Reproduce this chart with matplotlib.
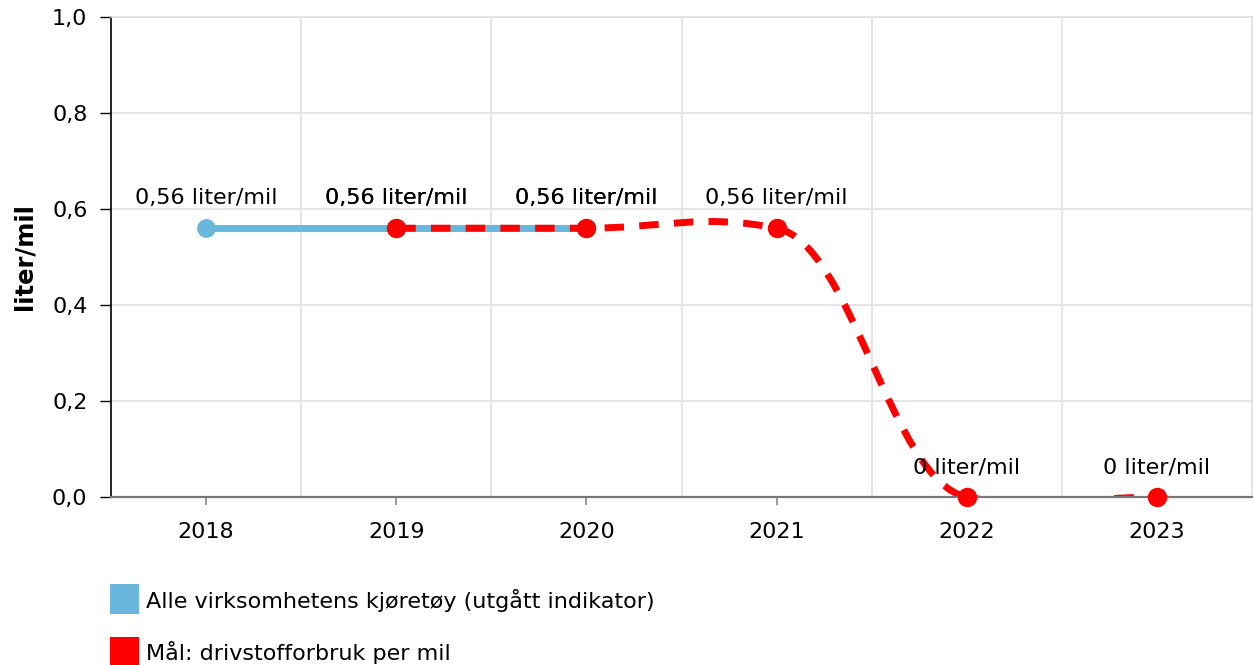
import numpy as np
import matplotlib.pyplot as plt
from matplotlib.path import Path
from matplotlib.patches import PathPatch, Rectangle

# -----------------------------
# data
# -----------------------------
years_blue = [2018, 2019, 2020]
values_blue = [0.56, 0.56, 0.56]
years_red = [2019, 2020, 2021, 2022, 2023]
values_red = [0.56, 0.56, 0.56, 0.0, 0.0]
x_ticks = [2018, 2019, 2020, 2021, 2022, 2023]
y_ticks = [0.0, 0.2, 0.4, 0.6, 0.8, 1.0]
legend_labels = ["Alle virksomhetens kjøretøy (utgått indikator)",
                 "Mål: drivstofforbruk per mil"]
unit = "liter/mil"

BLUE = "#69b8dc"
RED = "#ff0000"
FS = 16

plt.rcParams["font.family"] = ["DejaVu Sans"]


def fmt(v):
    return f"{v:g}".replace(".", ",") + " " + unit


def smooth_path(xs, ys, arm=0.4, damp=0.28):
    # bezier spline through the points, like the web chart's "spline" line
    xs = np.asarray(xs, float)
    ys = np.asarray(ys, float)
    n = len(xs)
    slope = np.zeros(n)
    for i in range(1, n - 1):
        slope[i] = damp * (ys[i + 1] - ys[i - 1]) / (xs[i + 1] - xs[i - 1])
    verts = [(xs[0], ys[0])]
    codes = [Path.MOVETO]
    for i in range(n - 1):
        dx = (xs[i + 1] - xs[i]) * arm
        verts += [(xs[i] + dx, ys[i] + dx * slope[i]),
                  (xs[i + 1] - dx, ys[i + 1] - dx * slope[i + 1]),
                  (xs[i + 1], ys[i + 1])]
        codes += [Path.CURVE4] * 3
    return Path(verts, codes)


W, H = 1254, 665
fig = plt.figure(figsize=(W / 100, H / 100), dpi=100)
ax = fig.add_axes([111 / W, 1 - 497 / H, (1252 - 111) / W, (497 - 17) / H])

ax.set_xlim(2017.5, 2023.5)
ax.set_ylim(0, 1.0)

# grid
ax.set_xticks(x_ticks)
ax.set_xticks([y + 0.5 for y in x_ticks[:-1]], minor=True)
ax.set_yticks(y_ticks)
ax.set_yticklabels([f"{v:.1f}".replace(".", ",") for v in y_ticks], fontsize=FS)
ax.set_xticklabels([str(y) for y in x_ticks], fontsize=FS)
ax.grid(True, which="minor", axis="x", color="#e0e0e0", lw=1.2)
ax.grid(True, which="major", axis="y", color="#e0e0e0", lw=1.2)
ax.set_axisbelow(True)
ax.tick_params(axis="x", which="major", length=6, width=1.2, color="#888888", pad=12)
ax.tick_params(axis="x", which="minor", length=0)
ax.tick_params(axis="y", length=8, width=1, color="black", pad=9)

for s in ["top", "right"]:
    ax.spines[s].set_color("#e0e0e0")
    ax.spines[s].set_linewidth(1.2)
ax.spines["left"].set_color("black")
ax.spines["left"].set_linewidth(1.2)
ax.spines["bottom"].set_color("#777777")
ax.spines["bottom"].set_linewidth(1.6)
ax.spines["bottom"].set_zorder(4)

# blue series
ax.plot(years_blue, values_blue, color=BLUE, lw=5, solid_capstyle="butt", zorder=2)
ax.plot(years_blue, values_blue, "o", color=BLUE, ms=12.5, zorder=2.5, clip_on=False)

# red target series (smoothed, dashed)
red_line = PathPatch(smooth_path(years_red, values_red), fill=False, edgecolor=RED,
                     lw=5, linestyle=(0, (2.8, 2.2)), capstyle="butt", zorder=3)
ax.add_patch(red_line)
ax.plot(years_red, values_red, "o", color=RED, ms=13, zorder=5, clip_on=False)

# data labels
for x, v in zip(years_blue, values_blue):
    ax.annotate(fmt(v), (x, v), xytext=(0, 21.5), textcoords="offset points",
                ha="center", va="center", fontsize=FS, color="black", zorder=6)
for x, v in zip(years_red, values_red):
    ax.annotate(fmt(v), (x, v), xytext=(0, 21.5), textcoords="offset points",
                ha="center", va="center", fontsize=FS, color="black", zorder=6)

# y axis title
fig.text(24 / W, 1 - 257 / H, unit, rotation=90, ha="center", va="center",
         fontsize=17.5, fontweight="bold")

# legend
for i, (lab, col) in enumerate(zip(legend_labels, [BLUE, RED])):
    top = 584 + i * 53
    fig.patches.append(Rectangle((110 / W, 1 - (top + 30) / H), 29 / W, 30 / H,
                                 transform=fig.transFigure, color=col, lw=0))
    fig.text(146 / W, 1 - (top + 16) / H, lab, ha="left", va="center", fontsize=FS)

fig.savefig("out.png", dpi=100)
